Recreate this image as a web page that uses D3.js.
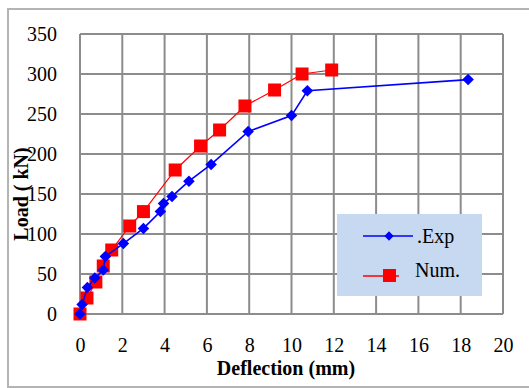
<!DOCTYPE html>
<html lang="en">
<head>
<meta charset="utf-8">
<title>Load - Deflection</title>
<script src="https://d3js.org/d3.v7.min.js"></script>
<style>
  body { margin: 0; background: #fff; }
  text { font-family: "Liberation Serif", "Times New Roman", serif; font-size: 20px; fill: #000; }
  .grid line { stroke: #8c8c8c; stroke-width: 2; }
  .title { font-weight: bold; }
</style>
</head>
<body>
<script>
// data
var expDefl = [0, 0.1, 0.35, 0.7, 1.1, 1.2, 2.05, 3.0, 3.8, 3.95, 4.35, 5.15, 6.2, 7.95, 10.0, 10.75, 18.35];
var expLoad = [0, 12, 33, 45, 55, 72, 88, 107, 128, 138, 147, 166, 187, 228, 248, 279, 293];
var numDefl = [0, 0.33, 0.75, 1.1, 1.5, 2.35, 3.0, 4.5, 5.7, 6.6, 7.8, 9.2, 10.5, 11.9];
var numLoad = [0, 20, 40, 60, 80, 110, 128, 180, 210, 230, 260, 280, 300, 305];
var xTicks = [0, 2, 4, 6, 8, 10, 12, 14, 16, 18, 20];
var yTicks = [0, 50, 100, 150, 200, 250, 300, 350];
var seriesNames = [".Exp", "Num."];

const w = 529, h = 388;
const pLeft = 80, pRight = 503, pTop = 34, pBottom = 314;

var svg = d3.select("body").append("svg")
  .attr("width", w).attr("height", h);

// outer frame
svg.append("rect")
  .attr("x", 8).attr("y", 9)
  .attr("width", 540).attr("height", 378)
  .attr("fill", "#fff")
  .attr("stroke", "#b4b4b4").attr("stroke-width", 2);

var x = d3.scaleLinear().domain([0, 20]).range([pLeft, pRight]);
var y = d3.scaleLinear().domain([0, 350]).range([pBottom, pTop]);

// grid
var grid = svg.append("g").attr("class", "grid");
grid.selectAll("line.v").data(xTicks).enter().append("line")
  .attr("x1", d => x(d)).attr("x2", d => x(d))
  .attr("y1", pTop).attr("y2", pBottom);
grid.selectAll("line.h").data(yTicks).enter().append("line")
  .attr("x1", pLeft).attr("x2", pRight)
  .attr("y1", d => y(d)).attr("y2", d => y(d));

// axes labels (no axis lines, just text)
var xAxis = d3.axisBottom(x).tickValues(xTicks).tickSize(0).tickPadding(0);
svg.append("g")
  .attr("transform", "translate(0,338)")
  .call(xAxis)
  .attr("font-family", null).attr("font-size", null)
  .call(g => g.select(".domain").remove())
  .selectAll("text")
  .attr("dy", "0.71em");

var yAxis = d3.axisLeft(y).tickValues(yTicks).tickSize(0).tickPadding(0);
svg.append("g")
  .attr("transform", "translate(57,0)")
  .call(yAxis)
  .attr("font-family", null).attr("font-size", null)
  .call(g => g.select(".domain").remove());

svg.append("text")
  .attr("class", "title")
  .attr("x", 286).attr("y", 375)
  .attr("text-anchor", "middle")
  .text("Deflection (mm)");

svg.append("text")
  .attr("class", "title")
  .attr("transform", "translate(28,194) rotate(-90)")
  .attr("text-anchor", "middle")
  .text("Load ( kN)");

// series
var expData = expDefl.map((d, i) => [d, expLoad[i]]);
var numData = numDefl.map((d, i) => [d, numLoad[i]]);
var line = d3.line().x(d => x(d[0])).y(d => y(d[1]));

svg.append("path").datum(numData)
  .attr("d", line).attr("fill", "none")
  .attr("stroke", "#ff0000").attr("stroke-width", 1.2);
svg.selectAll("rect.num").data(numData).enter().append("rect")
  .attr("class", "num")
  .attr("x", d => x(d[0]) - 6.5).attr("y", d => y(d[1]) - 6.5)
  .attr("width", 13).attr("height", 13)
  .attr("fill", "#ff0000");

svg.append("path").datum(expData)
  .attr("d", line).attr("fill", "none")
  .attr("stroke", "#0000ff").attr("stroke-width", 1.6);
var diamond = d3.symbol().type(d3.symbolDiamond2).size(85);
svg.selectAll("path.exp").data(expData).enter().append("path")
  .attr("class", "exp")
  .attr("d", diamond)
  .attr("transform", d => "translate(" + x(d[0]) + "," + y(d[1]) + ")")
  .attr("fill", "#0000ff");

// legend
var lg = svg.append("g").attr("transform", "translate(337,214)");
lg.append("rect").attr("width", 145).attr("height", 82).attr("fill", "#c6d9f1");
lg.append("line").attr("x1", 26).attr("x2", 76).attr("y1", 22).attr("y2", 22)
  .attr("stroke", "#0000ff").attr("stroke-width", 1.5);
lg.append("path").attr("d", d3.symbol().type(d3.symbolDiamond2).size(55))
  .attr("transform", "translate(52,22)").attr("fill", "#0000ff");
lg.append("text").attr("x", 80).attr("y", 29).text(seriesNames[0]);
lg.append("line").attr("x1", 26).attr("x2", 62).attr("y1", 62).attr("y2", 62)
  .attr("stroke", "#ff0000").attr("stroke-width", 1.5);
lg.append("rect").attr("x", 46).attr("y", 55).attr("width", 13).attr("height", 13)
  .attr("fill", "#ff0000");
lg.append("text").attr("x", 78).attr("y", 63).text(seriesNames[1]);
</script>
</body>
</html>
